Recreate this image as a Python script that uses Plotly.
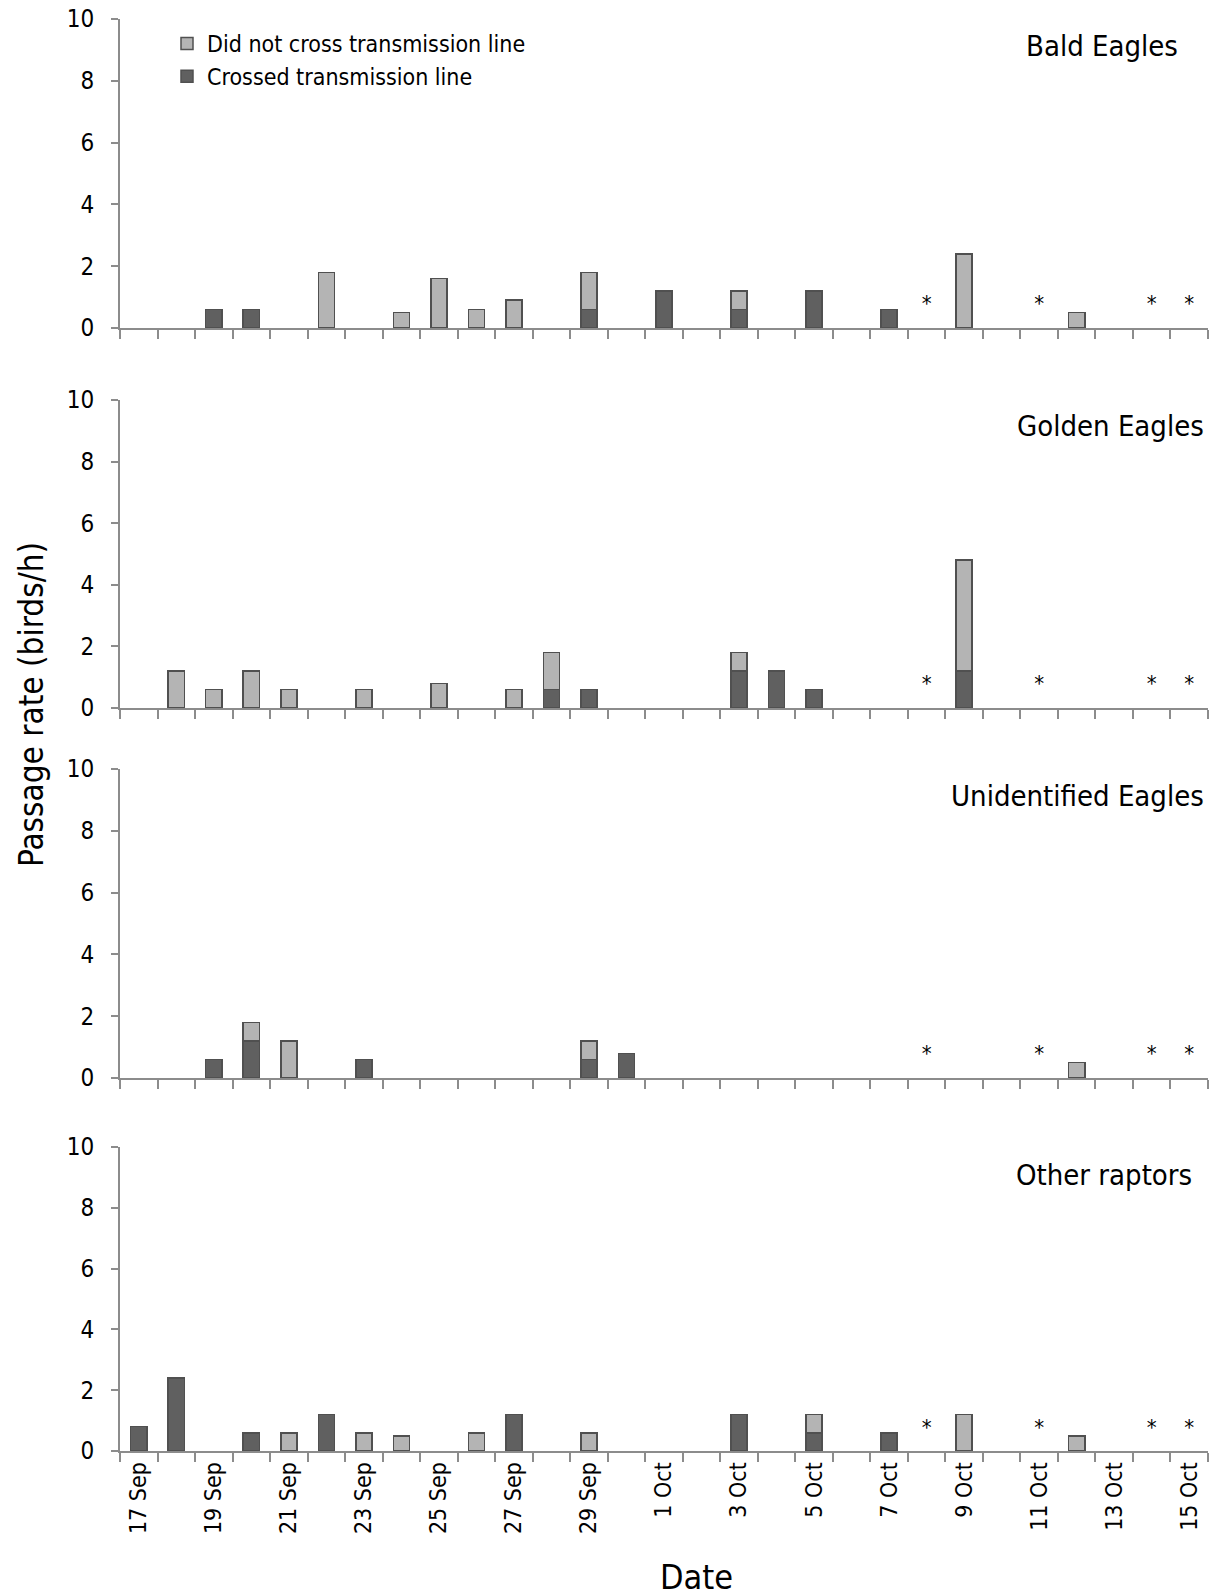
import plotly.graph_objects as go

# ---------------- data ----------------
dates = ["17 Sep", "18 Sep", "19 Sep", "20 Sep", "21 Sep", "22 Sep", "23 Sep", "24 Sep",
         "25 Sep", "26 Sep", "27 Sep", "28 Sep", "29 Sep", "30 Sep", "1 Oct", "2 Oct",
         "3 Oct", "4 Oct", "5 Oct", "6 Oct", "7 Oct", "8 Oct", "9 Oct", "10 Oct",
         "11 Oct", "12 Oct", "13 Oct", "14 Oct", "15 Oct"]

tick_labels = ["17 Sep", "", "19 Sep", "", "21 Sep", "", "23 Sep", "", "25 Sep", "",
               "27 Sep", "", "29 Sep", "", "1 Oct", "", "3 Oct", "", "5 Oct", "",
               "7 Oct", "", "9 Oct", "", "11 Oct", "", "13 Oct", "", "15 Oct"]

y_ticks = [0, 2, 4, 6, 8, 10]

panel_titles = ["Bald Eagles", "Golden Eagles", "Unidentified Eagles", "Other raptors"]

# Passage rate (birds/h), one value per date above
bald_crossed = [0, 0, 0.6, 0.6, 0, 0, 0, 0, 0, 0, 0, 0, 0.6, 0, 1.2, 0, 0.6, 0, 1.2, 0,
                0.6, 0, 0, 0, 0, 0, 0, 0, 0]
bald_not = [0, 0, 0, 0, 0, 1.8, 0, 0.5, 1.6, 0.6, 0.9, 0, 1.2, 0, 0, 0, 0.6, 0, 0, 0,
            0, 0, 2.4, 0, 0, 0.5, 0, 0, 0]

golden_crossed = [0, 0, 0, 0, 0, 0, 0, 0, 0, 0, 0, 0.6, 0.6, 0, 0, 0, 1.2, 1.2, 0.6, 0,
                  0, 0, 1.2, 0, 0, 0, 0, 0, 0]
golden_not = [0, 1.2, 0.6, 1.2, 0.6, 0, 0.6, 0, 0.8, 0, 0.6, 1.2, 0, 0, 0, 0, 0.6, 0, 0, 0,
              0, 0, 3.6, 0, 0, 0, 0, 0, 0]

unid_crossed = [0, 0, 0.6, 1.2, 0, 0, 0.6, 0, 0, 0, 0, 0, 0.6, 0.8, 0, 0, 0, 0, 0, 0,
                0, 0, 0, 0, 0, 0, 0, 0, 0]
unid_not = [0, 0, 0, 0.6, 1.2, 0, 0, 0, 0, 0, 0, 0, 0.6, 0, 0, 0, 0, 0, 0, 0,
            0, 0, 0, 0, 0, 0.5, 0, 0, 0]

other_crossed = [0.8, 2.4, 0, 0.6, 0, 1.2, 0, 0, 0, 0, 1.2, 0, 0, 0, 0, 0, 1.2, 0, 0.6, 0,
                 0.6, 0, 0, 0, 0, 0, 0, 0, 0]
other_not = [0, 0, 0, 0, 0.6, 0, 0.6, 0.5, 0, 0.6, 0, 0, 0.6, 0, 0, 0, 0, 0, 0.6, 0,
             0, 0, 1.2, 0, 0, 0.5, 0, 0, 0]

no_data_dates = ["8 Oct", "11 Oct", "14 Oct", "15 Oct"]

crossed_series = [bald_crossed, golden_crossed, unid_crossed, other_crossed]
not_series = [bald_not, golden_not, unid_not, other_not]

# ---------------- style ----------------
FONT = "DejaVu Sans Condensed, Liberation Sans, sans-serif"
DARK = "#606060"
LIGHT = "#b4b4b4"
EDGE = "#505050"
AXIS = "#8c8c8c"

W, H = 1212, 1596
ML, MR, MT, MB = 120, 4, 19, 145
plot_h = H - MT - MB

def py(px):
    return (H - MB - px) / plot_h

def pxx(px):
    return (px - ML) / (W - ML - MR)

panel_px = [(19, 328), (400, 708), (769, 1078), (1147, 1451)]
title_pos = [(1180, 46), (1206, 426), (1206, 796), (1194, 1175)]

fig = go.Figure()

def clean(arr):
    return [v if v else None for v in arr]

for i in range(4):
    xa = "x" if i == 0 else f"x{i+1}"
    ya = "y" if i == 0 else f"y{i+1}"
    fig.add_trace(go.Bar(
        x=dates, y=clean(crossed_series[i]), name="Crossed transmission line",
        marker=dict(color=DARK, line=dict(color=EDGE, width=1.5)),
        xaxis=xa, yaxis=ya, showlegend=(i == 0), legendrank=2))
    fig.add_trace(go.Bar(
        x=dates, y=clean(not_series[i]), name="Did not cross transmission line",
        marker=dict(color=LIGHT, line=dict(color=EDGE, width=1.5)),
        xaxis=xa, yaxis=ya, showlegend=(i == 0), legendrank=1))
    fig.add_trace(go.Scatter(
        x=no_data_dates, y=[0.72] * len(no_data_dates), mode="text", text=["*"] * len(no_data_dates),
        textfont=dict(family=FONT, size=22, color="black"), textposition="middle center",
        xaxis=xa, yaxis=ya, showlegend=False, hoverinfo="skip"))

layout = dict(
    width=W, height=H,
    margin=dict(l=ML, r=MR, t=MT, b=MB, pad=0),
    paper_bgcolor="white", plot_bgcolor="white",
    barmode="stack", bargap=0.57,
    font=dict(family=FONT, size=24, color="black"),
    legend=dict(x=pxx(167), y=py(22), xanchor="left", yanchor="top",
                font=dict(family=FONT, size=23, color="black"),
                bgcolor="rgba(0,0,0,0)", traceorder="normal", itemwidth=30),
    showlegend=True,
)

for i in range(4):
    top, bot = panel_px[i]
    xk = "xaxis" if i == 0 else f"xaxis{i+1}"
    yk = "yaxis" if i == 0 else f"yaxis{i+1}"
    layout[xk] = dict(
        type="category", categoryorder="array", categoryarray=dates,
        range=[-0.5, len(dates) - 0.5], domain=[0, 1],
        anchor="y" if i == 0 else f"y{i+1}",
        showline=True, linecolor=AXIS, linewidth=2,
        ticks="outside", ticklen=9, tickwidth=2, tickcolor=AXIS, tickson="boundaries",
        tickmode="array", tickvals=dates, ticktext=tick_labels,
        showticklabels=(i == 3), tickangle=-90,
        tickfont=dict(family=FONT, size=23, color="black"),
        showgrid=False, zeroline=False, fixedrange=True,
    )
    layout[yk] = dict(
        domain=[py(bot), py(top)], range=[0, 10],
        anchor="x" if i == 0 else f"x{i+1}",
        tickmode="array", tickvals=y_ticks,
        showline=True, linecolor=AXIS, linewidth=2,
        ticks="outside", ticklen=7, tickwidth=2, tickcolor=AXIS,
        tickfont=dict(family=FONT, size=24, color="black"),
        ticklabelstandoff=12,
        showgrid=False, zeroline=False, fixedrange=True,
    )

fig.update_layout(**layout)

annotations = []
for i, t in enumerate(panel_titles):
    xr, yc = title_pos[i]
    annotations.append(dict(text=t, x=pxx(xr), y=py(yc), xref="paper", yref="paper",
                            xanchor="right", yanchor="middle", showarrow=False,
                            font=dict(family=FONT, size=29, color="black")))
annotations.append(dict(text="Passage rate (birds/h)", x=pxx(31), y=py(705), xref="paper",
                        yref="paper", xanchor="center", yanchor="middle", textangle=-90,
                        showarrow=False, font=dict(family=FONT, size=33, color="black")))
annotations.append(dict(text="Date", x=pxx(696), y=py(1577), xref="paper", yref="paper",
                        xanchor="center", yanchor="middle", showarrow=False,
                        font=dict(family=FONT, size=34, color="black")))
fig.update_layout(annotations=annotations)

fig.write_html("out.html")
